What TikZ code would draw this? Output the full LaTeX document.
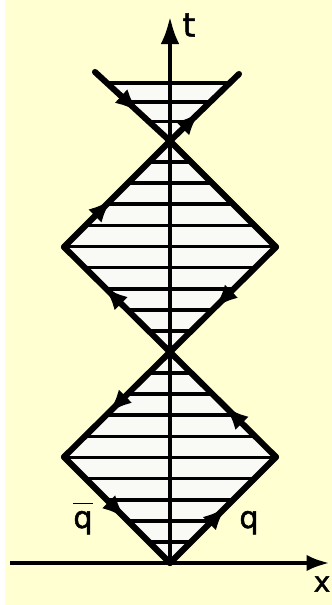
\documentclass[tikz,border=0pt]{standalone}
\usepackage{fontspec}
\newfontfamily\lbl[FakeBold=1.5]{DejaVu Sans}
\usetikzlibrary{arrows.meta,decorations.markings}
\definecolor{bg}{RGB}{255,255,210}
\definecolor{inner}{RGB}{249,249,246}
\tikzset{
  edge/.style={line width=5.2pt, line cap=round},
  hatch/.style={line width=3.2pt},
  axis/.style={line width=4.2pt},
  midarrow/.style={postaction={decorate},decoration={markings,mark=at position #1 with {\arrow{Latex[length=20pt,width=16pt]}}}},
  lab/.style={inner sep=0pt}
}
\begin{document}
\begin{tikzpicture}[x=0.03cm,y=-0.03cm]
\useasboundingbox (0,0) rectangle (332,605);
\fill[white] (0,0) rectangle (332,605);
\fill[bg] (5,0) rectangle (332,605);
% key points
\coordinate (O) at (170,563);
\coordinate (L1) at (64,457);
\coordinate (R1) at (276,457);
\coordinate (M) at (170,352);
\coordinate (L2) at (64,247);
\coordinate (R2) at (276,247);
\coordinate (T) at (170,141);
\coordinate (A) at (95,72);
\coordinate (B) at (239,74);
\coordinate (C) at (109,83);
\coordinate (D) at (229,83);
\coordinate (ttip) at (170,16);
\coordinate (xl) at (10,563);
\coordinate (xr) at (330,563);
% fills
\fill[inner] (O) -- (L1) -- (M) -- (R1) -- cycle;
\fill[inner] (M) -- (L2) -- (T) -- (R2) -- cycle;
\fill[inner] (T) -- (C) -- (D) -- cycle;
% hatching
\begin{scope}
\clip (O) -- (L1) -- (M) -- (R1) -- cycle;
\foreach \k in {1,...,9} \draw[hatch] (0,{352+21.1*\k}) -- (332,{352+21.1*\k});
\end{scope}
\begin{scope}
\clip (M) -- (L2) -- (T) -- (R2) -- cycle;
\foreach \k in {1,...,9} \draw[hatch] (0,{141+21.1*\k}) -- (332,{141+21.1*\k});
\end{scope}
\begin{scope}
\clip (T) -- (C) -- (D) -- cycle;
\foreach \y in {102,121.5} \draw[hatch] (0,\y) -- (332,\y);
\end{scope}
\draw[hatch] (C) -- (D);
% axes
\draw[axis, -{Latex[length=24pt,width=16pt]}] (O) -- (ttip);
\draw[axis, -{Latex[length=20pt,width=14pt]}] (xl) -- (xr);
% edges
\draw[edge, midarrow=0.45] (L2) -- (T);
\draw[edge, midarrow=0.62] (M) -- (L2);
\draw[edge, midarrow=0.58] (R2) -- (M);
\draw[edge] (T) -- (R2);
\draw[edge, midarrow=0.58] (M) -- (L1);
\draw[edge, midarrow=0.48] (R1) -- (M);
\draw[edge, midarrow=0.58] (L1) -- (O);
\draw[edge, midarrow=0.53] (O) -- (R1);
\draw[edge, midarrow=0.58] (A) -- (T);
\draw[edge, midarrow=0.43] (T) -- (B);
% labels
\node[lab, font=\lbl\fontsize{28}{28}\selectfont] (tl) at (189,25) {t};
\node[lab, font=\lbl\fontsize{26}{26}\selectfont, anchor=base] (qb) at (83,528) {$\overline{\mbox{\vphantom{b}q}}$};
\node[lab, font=\lbl\fontsize{26}{26}\selectfont, anchor=base] (q) at (249,528) {q};
\node[lab, font=\lbl\fontsize{24}{24}\selectfont] (xlab) at (322,584) {x};
\end{tikzpicture}
\end{document}
